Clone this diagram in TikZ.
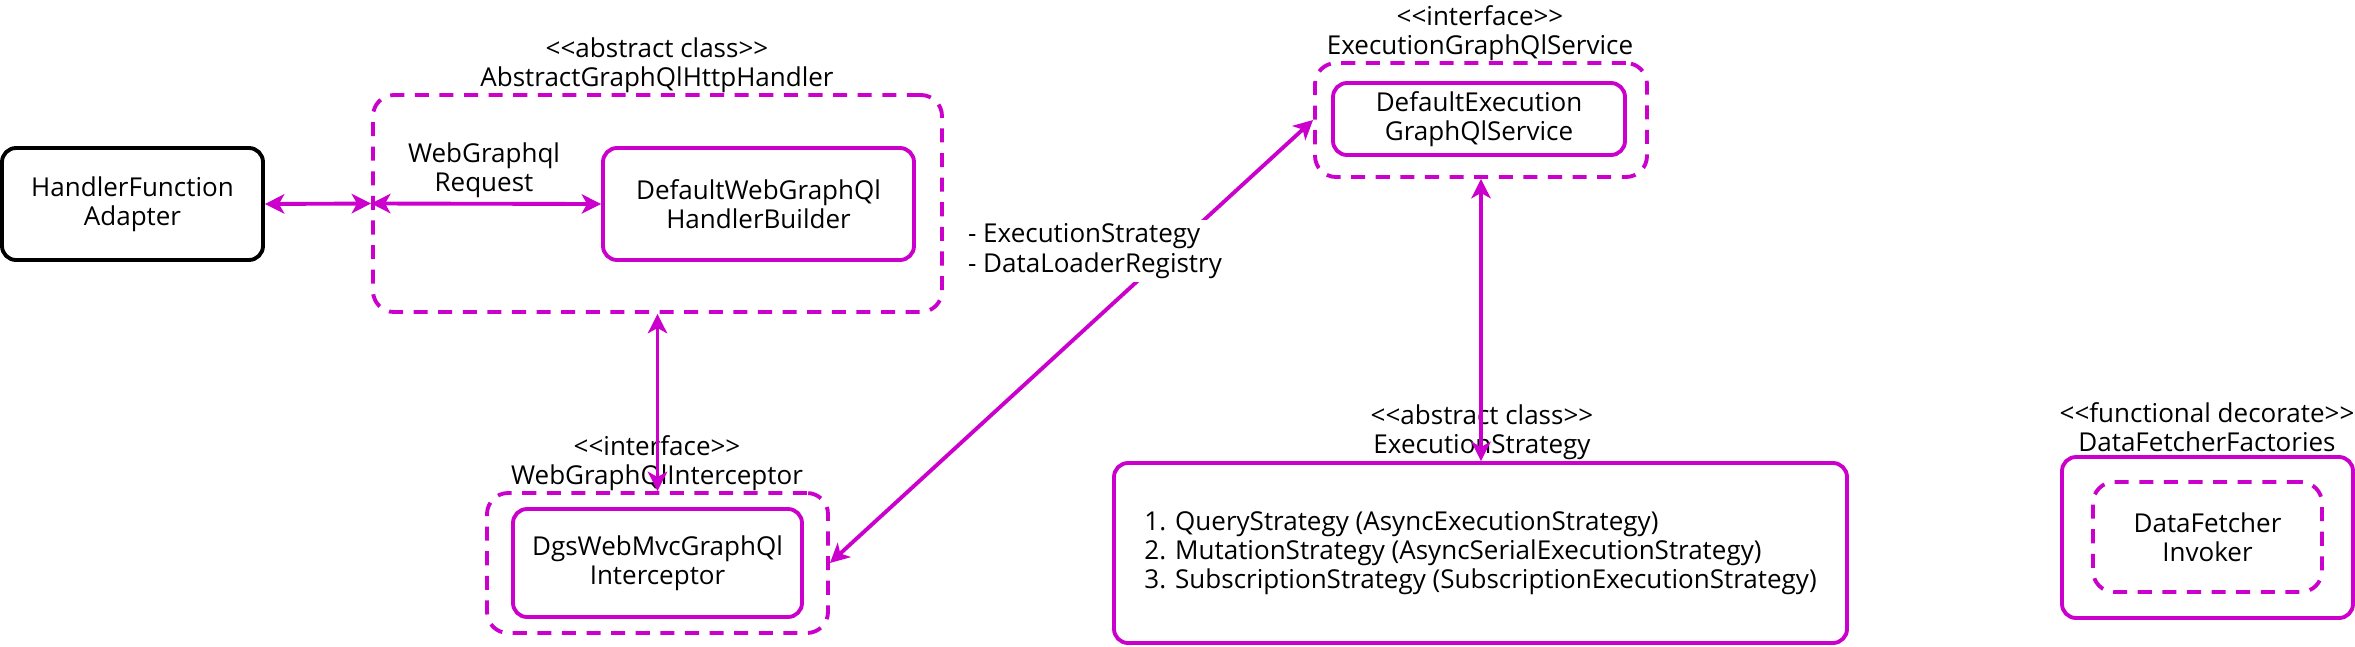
\documentclass[tikz,border=0pt]{standalone}
\usepackage{fontspec}
\setmainfont{Open Sans}
\usetikzlibrary{arrows.meta}
\definecolor{dgsmagenta}{HTML}{CC00CC}
\newcommand{\stereo}[1]{\textless{}\textless{}#1\textgreater{}\textgreater{}}

\begin{document}
\begin{tikzpicture}[
  font=\fontsize{14.8}{16.6}\selectfont,
  box/.style={rectangle, draw, rounded corners=8pt, line width=2.2pt, align=center, inner sep=2pt},
  mbox/.style={box, draw=dgsmagenta},
  dbox/.style={rectangle, draw=dgsmagenta, dash pattern=on 8pt off 6pt, rounded corners=12pt, line width=2.2pt, align=center},
  link/.style={dgsmagenta, line width=2.2pt, {Stealth[length=11pt,width=11pt,inset=3pt]}-{Stealth[length=11pt,width=11pt,inset=3pt]}},
  classname/.style={align=center, inner sep=0pt}
]
  \useasboundingbox (0,0) rectangle (47.1,-12.92);
  % Nodes
  \node (hfa) [box, minimum width=5.22cm, minimum height=2.24cm] at (2.65,-4.08) {HandlerFunction\\Adapter};
  \node (ahh) [dbox, minimum width=11.38cm, minimum height=4.34cm] at (13.15,-4.07) {};
  \node (ahh-name) [classname] at (13.14,-1.3) {\stereo{abstract class}\\AbstractGraphQlHttpHandler};
  \node (builder) [mbox, minimum width=6.22cm, minimum height=2.24cm] at (15.17,-4.08) {DefaultWebGraphQl\\HandlerBuilder};
  \node (req) [classname] at (9.68,-3.4) {WebGraphql\\Request};
  \node (icpt) [dbox, minimum width=6.82cm, minimum height=2.8cm] at (13.15,-11.26) {};
  \node (icpt-in) [mbox, minimum width=5.78cm, minimum height=2.16cm] at (13.15,-11.26) {DgsWebMvcGraphQl\\Interceptor};
  \node (icpt-name) [classname] at (13.14,-9.26) {\stereo{interface}\\WebGraphQlInterceptor};
  \node (egs) [dbox, minimum width=6.64cm, minimum height=2.28cm] at (29.62,-2.4) {};
  \node (egs-in) [mbox, minimum width=5.84cm, minimum height=1.44cm] at (29.58,-2.38) {DefaultExecution\\GraphQlService};
  \node (egs-name) [classname] at (29.6,-0.66) {\stereo{interface}\\ExecutionGraphQlService};
  \node (strat) [mbox, minimum width=14.66cm, minimum height=3.6cm, align=left] at (29.61,-11.06) {1. QueryStrategy (AsyncExecutionStrategy)\\2. MutationStrategy (AsyncSerialExecutionStrategy)\\3. SubscriptionStrategy (SubscriptionExecutionStrategy)};
  \node (strat-name) [classname] at (29.64,-8.65) {\stereo{abstract class}\\ExecutionStrategy};
  \node (dff) [mbox, minimum width=5.82cm, minimum height=3.22cm] at (44.15,-10.75) {};
  \node (dff-in) [dbox, minimum width=4.58cm, minimum height=2.2cm] at (44.15,-10.74) {DataFetcher\\Invoker};
  \node (dff-name) [classname] at (44.14,-8.54) {\stereo{functional decorate}\\DataFetcherFactories};
  % Arrows
  \draw [link] (hfa.east) -- (ahh.west);
  \draw [link] (ahh.west) -- (builder.west);
  \draw [link] (ahh.south) -- (icpt.north);
  \draw [link] (icpt.east) -- (egs.west);
  \node (loaders) [fill=white, align=left, inner sep=2pt] at (21.9,-5.02) {- ExecutionStrategy\\- DataLoaderRegistry};
  \draw [link] (egs.south) -- (egs.south |- strat.north);
\end{tikzpicture}
\end{document}
